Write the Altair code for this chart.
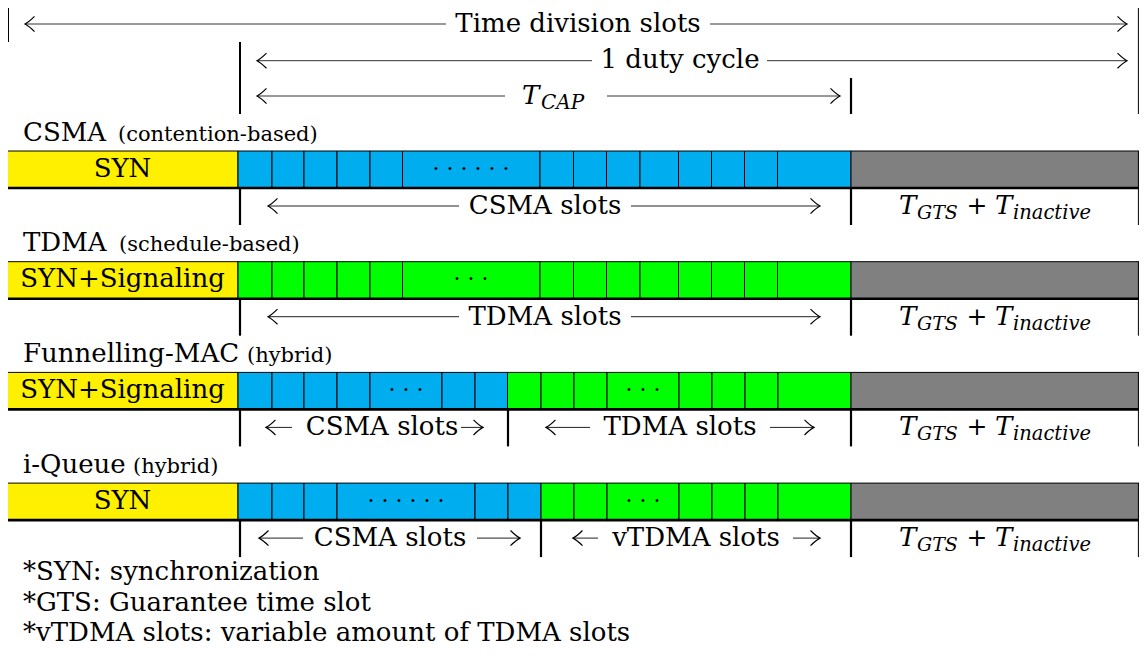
import altair as alt
import pandas as pd

FONT = "DejaVu Serif"

# ---------------- data ----------------
row_names = ["CSMA", "TDMA", "Funnelling-MAC", "i-Queue"]
row_kinds = ["(contention-based)", "(schedule-based)", "(hybrid)", "(hybrid)"]
kind_x = [118, 119, 247, 133]
head_labels = ["SYN", "SYN+Signaling", "SYN+Signaling", "SYN"]
bar_tops = [151, 261.7, 372.4, 483.1]
BAR_H = 37
BAR_LEFT, SYN_END, ACTIVE_END, BAR_RIGHT = 7, 238, 851, 1146

full_edges = [238, 272, 304, 337, 370, 402.5, 540, 573.5, 606.5, 640, 678.5, 711.5, 744.5, 777.5, 851]
blue_edges = [full_edges, [], [238, 272, 304, 337, 370, 442, 475, 507.5], [238, 272, 304, 337, 475, 508, 541]]
green_edges = [[], full_edges, [507.5, 541, 574, 607, 679, 712, 745, 778, 851], [541, 574, 607, 679, 712, 745, 778, 851]]

SIX = "\u00b7 \u00b7 \u00b7 \u00b7 \u00b7 \u00b7"
THREE = "\u00b7 \u00b7 \u00b7"
dots = [[(471, SIX)], [(471, THREE)], [(406, THREE), (643, THREE)], [(406, SIX), (643, THREE)]]

sub_dividers = [[240, 851], [240, 851], [240, 508, 851], [240, 541, 851]]
sub_arrows = [
    [(268, 459), (820, 631)],
    [(268, 459), (820, 631)],
    [(266, 292), (483, 461), (546, 590), (814, 770)],
    [(259, 303), (520, 477), (573, 598), (820, 793)],
]
sub_texts = [
    [(545, "CSMA slots")],
    [(545, "TDMA slots")],
    [(382, "CSMA slots"), (680, "TDMA slots")],
    [(390, "CSMA slots"), (696, "vTDMA slots")],
]

top_rows = [(24, "Time division slots", 578), (60.7, "1 duty cycle", 680)]
top_arrows = [(24, 25, 446), (24, 1127, 710), (60.7, 257, 592), (60.7, 1127, 767),
              (96, 257, 505), (96, 840, 607)]
top_verticals = [(8, 5, 42, 2), (240, 42, 114, 2), (851, 78, 114, 2.2), (BAR_RIGHT, 5, 114, 1)]

footnotes = ["*SYN: synchronization", "*GTS: Guarantee time slot",
             "*vTDMA slots: variable amount of TDMA slots"]
foot_y = [580, 611, 641]

YELLOW, BLUE, GREEN, GRAY = "#FFF000", "#00AEEF", "#00FF00", "#808080"

# ---------------- page geometry ----------------
W, H = 1131, 639
EDGE = min(BAR_RIGHT, 8 + W - 0.6)  # visible right border of the table

# ---------------- build tables ----------------
rects, hrules, vrules, heads = [], [], [], []
t_center, t_left, t_ileft, t_dots = [], [], [], []

for r, B in enumerate(bar_tops):
    t_left.append(dict(x=23, y=B - 10.3, t=row_names[r], s=26))
    t_left.append(dict(x=kind_x[r], y=B - 10.3, t=row_kinds[r], s=21))
    rects.append(dict(x=BAR_LEFT, x2=SYN_END, y=B, y2=B + BAR_H, f=YELLOW))
    for edges, col in ((blue_edges[r], BLUE), (green_edges[r], GREEN)):
        for a, b in zip(edges[:-1], edges[1:]):
            rects.append(dict(x=a, x2=b, y=B, y2=B + BAR_H, f=col))
    rects.append(dict(x=ACTIVE_END, x2=BAR_RIGHT, y=B, y2=B + BAR_H, f=GRAY))
    t_center.append(dict(x=(BAR_LEFT + SYN_END) / 2, y=B + 25.7, t=head_labels[r], s=26))
    for cx, d in dots[r]:
        t_dots.append(dict(x=cx, y=B + BAR_H / 2 + 6, t=d, s=22))
    hrules.append(dict(x=BAR_LEFT, x2=BAR_RIGHT, y=B + BAR_H, w=2.6, c="black"))
    vrules.append(dict(x=EDGE, y=B, y2=B + BAR_H, w=1))
    for dx in sub_dividers[r]:
        vrules.append(dict(x=dx, y=B + BAR_H, y2=B + 74, w=2.2))
    vrules.append(dict(x=EDGE, y=B + BAR_H, y2=B + 74, w=1))
    for tip, tail in sub_arrows[r]:
        heads.append(dict(x=tip, y=B + 55, a=0 if tip < tail else 180))
        hrules.append(dict(x=min(tip, tail), x2=max(tip, tail), y=B + 55, w=1, c="#222"))
    for cx, txt in sub_texts[r]:
        t_center.append(dict(x=cx, y=B + 63, t=txt, s=26))
    t_ileft.append(dict(x=899, y=B + 63, t="T", s=26))
    t_ileft.append(dict(x=917, y=B + 68, t="GTS", s=19))
    t_center.append(dict(x=977, y=B + 63, t="+", s=25))
    t_ileft.append(dict(x=995, y=B + 63, t="T", s=26))
    t_ileft.append(dict(x=1013, y=B + 68, t="inactive", s=19.5))

for y, txt, cx in top_rows:
    t_center.append(dict(x=cx, y=y + 7.5, t=txt, s=26))
t_ileft.append(dict(x=522, y=96 + 7.5, t="T", s=26))
t_ileft.append(dict(x=541, y=96 + 12.5, t="CAP", s=20))
for y, tip, tail in top_arrows:
    heads.append(dict(x=tip, y=y, a=0 if tip < tail else 180))
    hrules.append(dict(x=min(tip, tail), x2=max(tip, tail), y=y, w=1, c="#333"))
for x, y1, y2, w in top_verticals:
    vrules.append(dict(x=min(x, EDGE), y=y1, y2=y2, w=w))

for txt, fy in zip(footnotes, foot_y):
    t_left.append(dict(x=23, y=fy, t=txt, s=26))

# ---------------- chart ----------------
xs = alt.Scale(domain=[8, 8 + W], nice=False, zero=False)
ys = alt.Scale(domain=[8, 8 + H], nice=False, zero=False, reverse=True)
X = alt.X("x:Q", scale=xs, axis=None)
Y = alt.Y("y:Q", scale=ys, axis=None)

rect_layer = alt.Chart(pd.DataFrame(rects)).mark_rect(stroke="black", strokeWidth=1).encode(
    x=X, x2="x2:Q", y=Y, y2="y2:Q", color=alt.Color("f:N", scale=None))

hrule_layer = alt.Chart(pd.DataFrame(hrules)).mark_rule().encode(
    x=X, x2="x2:Q", y=Y, size=alt.Size("w:Q", scale=None), color=alt.Color("c:N", scale=None))

vrule_layer = alt.Chart(pd.DataFrame(vrules)).mark_rule(color="black").encode(
    x=X, y=Y, y2="y2:Q", size=alt.Size("w:Q", scale=None))

CHEVRON = "M1,-0.8 Q0.4,-0.2 0,0 Q0.4,0.2 1,0.8"
head_layer = alt.Chart(pd.DataFrame(heads)).mark_point(
    shape=CHEVRON, filled=False, stroke="black", strokeWidth=1.2, size=360, opacity=1).encode(
    x=X, y=Y, angle=alt.Angle("a:Q", scale=None))


def text_layer(rows, align, style="normal"):
    return alt.Chart(pd.DataFrame(rows)).mark_text(
        align=align, baseline="alphabetic", font=FONT, fontStyle=style, color="black").encode(
        x=X, y=Y, text="t:N", size=alt.Size("s:Q", scale=None))


chart = alt.layer(
    rect_layer, hrule_layer, vrule_layer, head_layer,
    text_layer(t_center, "center"), text_layer(t_left, "left"),
    text_layer(t_ileft, "left", "italic"), text_layer(t_dots, "center"),
).properties(width=W, height=H, autosize="none", padding=0).configure_view(stroke=None)

chart.save("out.html", embed_options={"renderer": "svg", "actions": False})
